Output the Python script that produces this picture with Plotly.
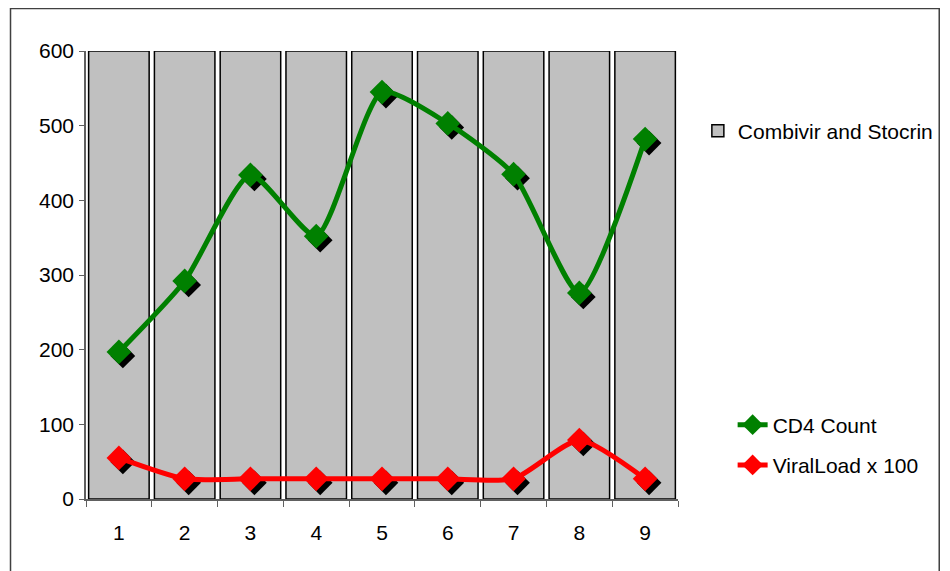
import plotly.graph_objects as go

categories = ["1", "2", "3", "4", "5", "6", "7", "8", "9"]
treatment = [600, 600, 600, 600, 600, 600, 600, 600, 600]
cd4_count = [197, 292, 434, 352, 545, 503, 435, 276, 482]
viral_load_x100 = [55, 27, 27, 27, 27, 27, 27, 79, 27]
y_ticks = [0, 100, 200, 300, 400, 500, 600]

OFF = 8  # page body margin
W, H = 950 - OFF, 571 - OFF
L, R, T, B = 86 - OFF, 682 - OFF, 51 - OFF, 499 - OFF
pw, ph = R - L, B - T
xr = [-0.5, 8.5]
yr = [0, 600]
dx = 4 / (pw / 9)
dy = 4 / (ph / 600)

font = dict(family="Liberation Sans, Arial, sans-serif", size=21, color="black")

fig = go.Figure()
fig.add_trace(go.Bar(x=categories, y=treatment, name="Combivir and Stocrin",
                     marker=dict(color="#C0C0C0", line=dict(color="black", width=1.5)),
                     legend="legend", xaxis="x", yaxis="y"))
# marker shadows
for vals in (cd4_count, viral_load_x100):
    fig.add_trace(go.Scatter(x=categories, y=vals, mode="markers", showlegend=False,
                             marker=dict(symbol="diamond", size=19, color="black"),
                             xaxis="x2", yaxis="y2", hoverinfo="skip"))
fig.add_trace(go.Scatter(x=categories, y=cd4_count, name="CD4 Count", mode="lines+markers",
                         line=dict(color="#008000", width=5, shape="spline", smoothing=0.6),
                         marker=dict(symbol="diamond", size=19, color="#008000"),
                         legend="legend2", legendgroup="a", xaxis="x3", yaxis="y3"))
fig.add_trace(go.Scatter(x=categories, y=viral_load_x100, name="ViralLoad x 100", mode="lines+markers",
                         line=dict(color="#FF0000", width=5, shape="spline", smoothing=0.6),
                         marker=dict(symbol="diamond", size=19, color="#FF0000"),
                         legend="legend2", legendgroup="b", xaxis="x3", yaxis="y3"))

hidden = dict(visible=False, showgrid=False, zeroline=False)
fig.update_layout(
    width=W, height=H,
    margin=dict(l=L, r=W - R, t=T, b=H - B, pad=0),
    paper_bgcolor="white", plot_bgcolor="white",
    font=font, bargap=0.08,
    xaxis=dict(type="category", categoryarray=categories, range=xr, tickson="boundaries",
               ticks="outside", ticklen=6, tickcolor="#606060", showline=True, linecolor="#606060",
               linewidth=1.5, showgrid=False, zeroline=False, ticklabelstandoff=14,
               tickfont=font),
    yaxis=dict(range=yr, tickvals=y_ticks, ticks="outside", ticklen=5, tickcolor="#606060",
               showline=True, linecolor="#606060", linewidth=1.5, showgrid=False, zeroline=False,
               ticklabelstandoff=1, tickfont=font),
    xaxis2=dict(type="category", categoryarray=categories, range=[xr[0] - dx, xr[1] - dx],
                overlaying="x", **hidden),
    yaxis2=dict(range=[yr[0] + dy, yr[1] + dy], overlaying="y", **hidden),
    xaxis3=dict(type="category", categoryarray=categories, range=xr, overlaying="x", **hidden),
    yaxis3=dict(range=yr, overlaying="y", **hidden),
    legend=dict(x=(702 - OFF - L) / pw, y=(499 - 131) / ph, xanchor="left", yanchor="middle",
                bgcolor="rgba(0,0,0,0)", font=font, itemwidth=30),
    legend2=dict(x=(737 - OFF - L) / pw, y=(499 - 445) / ph, xanchor="left", yanchor="middle",
                 bgcolor="rgba(0,0,0,0)", font=font, tracegroupgap=10),
    shapes=[dict(type="rect", xref="paper", yref="paper",
                 x0=(10 - 86) / pw, x1=(945 - 86) / pw, y0=(499 - 590) / ph, y1=(499 - 8.5) / ph,
                 line=dict(color="#404040", width=1.5), fillcolor="rgba(0,0,0,0)", layer="below")],
)
fig.write_html("out.html")
